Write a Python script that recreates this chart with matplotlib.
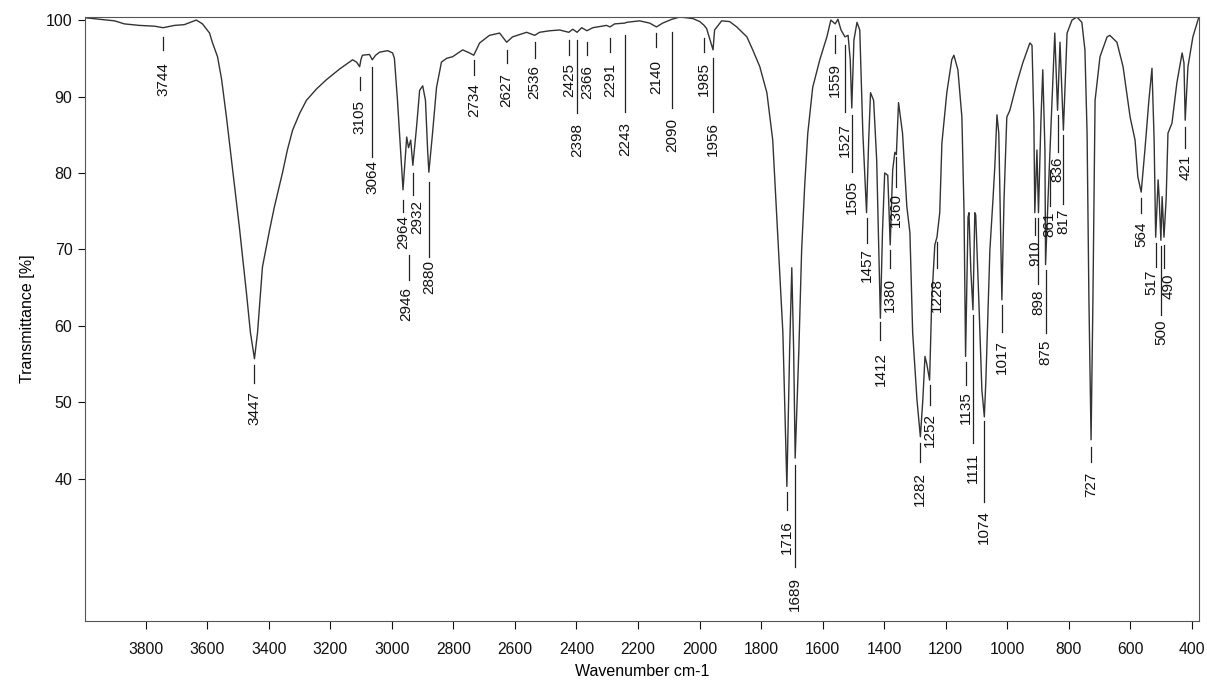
import matplotlib
matplotlib.use("Agg")
import matplotlib.pyplot as plt

plt.rcParams['font.family'] = ['Liberation Sans', 'DejaVu Sans']

# spectrum (wavenumber, transmittance)
wavenumber = [3997, 3951, 3902, 3870, 3821, 3772, 3744, 3707, 3675, 3649, 3636, 3616,
              3593, 3584, 3567, 3554, 3538, 3519, 3496, 3473, 3460, 3447, 3437, 3421, 3398, 3382,
              3356, 3340, 3323, 3300, 3278, 3245, 3213, 3170, 3128, 3115, 3105, 3101, 3096, 3073, 3064, 3053,
              3040, 3014, 2998, 2992, 2982, 2972, 2964, 2952, 2946, 2939, 2932, 2920,
              2910, 2900, 2891, 2884, 2880, 2868, 2855, 2839, 2822, 2803, 2770, 2748,
              2734, 2715, 2683, 2650, 2627, 2608, 2562, 2536, 2520, 2487, 2455, 2425,
              2412, 2398, 2383, 2366, 2347, 2302, 2291, 2276, 2243, 2237, 2195, 2162,
              2140, 2120, 2090, 2064, 2022, 1999, 1985, 1977, 1956, 1951, 1928, 1902,
              1879, 1846, 1827, 1804, 1781, 1762, 1746, 1729, 1716, 1707, 1700, 1694,
              1689, 1677, 1668, 1658, 1648, 1632, 1609, 1586, 1573, 1559, 1550, 1540,
              1527, 1517, 1510, 1505, 1498, 1488, 1479, 1469, 1457, 1450, 1444, 1434,
              1424, 1417, 1412, 1405, 1398, 1388, 1380, 1372, 1365, 1360, 1353, 1340,
              1326, 1316, 1307, 1293, 1282, 1274, 1267, 1261, 1252, 1245, 1235, 1228,
              1219, 1212, 1196, 1180, 1173, 1160, 1147, 1140, 1135, 1127, 1124, 1118,
              1111, 1105, 1102, 1092, 1082, 1074, 1069, 1056, 1046, 1040, 1033, 1027,
              1017, 1010, 1001, 991, 968, 949, 926, 919, 913, 910, 903, 898,
              890, 884, 877, 875, 867, 861, 854, 845, 836, 828, 817, 805,
              789, 773, 757, 747, 740, 734, 727, 721, 714, 698, 675, 666,
              643, 623, 600, 584, 575, 564, 552, 539, 529, 522, 517, 509,
              506, 500, 496, 490, 483, 477, 464, 448, 431, 425, 421, 412,
              396, 378]
transmittance = [100.3, 100.1, 99.9, 99.5, 99.3, 99.2, 99.0, 99.3, 99.4, 99.8, 100.0, 99.5,
                 98.3, 97.1, 95.2, 92.3, 87.3, 80.8, 72.9, 64.3, 59.1, 55.7, 59.1, 67.7, 72.5, 75.6,
                 80.0, 83.0, 85.6, 87.8, 89.5, 91.0, 92.2, 93.6, 94.8, 94.5, 93.9, 94.8, 95.4, 95.5, 94.8, 95.4,
                 95.8, 96.0, 95.7, 95.0, 89.5, 83.0, 77.8, 84.7, 83.3, 84.3, 81.0, 86.0,
                 90.8, 91.4, 89.5, 83.0, 80.1, 85.2, 91.2, 94.5, 95.0, 95.2, 96.1, 95.7,
                 95.4, 97.0, 98.0, 98.3, 97.1, 97.8, 98.4, 98.0, 98.4, 98.6, 98.7, 98.4,
                 98.8, 98.4, 99.0, 98.6, 99.0, 99.3, 99.1, 99.5, 99.6, 99.7, 99.9, 99.6,
                 99.1, 99.6, 100.1, 100.4, 100.2, 99.8, 99.3, 98.9, 96.1, 98.7, 99.9, 99.8,
                 99.1, 97.8, 96.1, 93.9, 90.5, 84.3, 72.2, 59.1, 39.0, 56.9, 67.6, 56.9,
                 42.7, 56.9, 69.9, 78.4, 85.2, 91.2, 94.8, 97.8, 100.0, 99.5, 100.1, 98.7,
                 97.8, 98.0, 94.8, 88.5, 97.4, 99.7, 98.7, 85.2, 74.8, 84.3, 90.5, 89.5,
                 81.7, 69.9, 61.0, 72.5, 80.0, 79.7, 70.6, 80.4, 82.7, 82.4, 89.2, 85.2,
                 75.6, 72.2, 59.1, 50.3, 45.5, 50.3, 56.0, 55.0, 52.9, 63.4, 70.6, 71.6,
                 74.8, 83.9, 90.5, 94.8, 95.4, 93.5, 87.3, 74.8, 56.0, 74.2, 74.8, 67.3,
                 62.1, 74.8, 74.5, 63.4, 51.6, 48.1, 52.9, 69.9, 76.5, 80.8, 87.6, 85.2,
                 63.4, 76.5, 87.3, 88.2, 91.8, 94.4, 97.0, 96.7, 86.9, 74.8, 83.0, 74.8,
                 86.9, 93.5, 83.0, 68.0, 76.5, 82.4, 89.5, 98.3, 88.2, 97.1, 85.6, 98.3,
                 100.0, 100.4, 99.7, 96.1, 85.2, 63.4, 45.1, 63.4, 89.5, 95.2, 97.8, 98.0,
                 97.1, 93.9, 87.3, 84.3, 79.5, 77.5, 83.0, 89.5, 93.7, 84.3, 71.6, 79.1,
                 77.1, 71.2, 76.9, 71.6, 76.5, 85.2, 86.5, 91.8, 95.7, 94.4, 86.9, 93.9,
                 97.8, 100.2]

# peak labels
peaks = [3744, 3447, 3105, 3064, 2964, 2946, 2932, 2880, 2734, 2627, 2536, 2425,
         2398, 2366, 2291, 2243, 2140, 2090, 1985, 1956, 1716, 1689, 1559, 1527,
         1505, 1457, 1412, 1380, 1360, 1282, 1252, 1228, 1135, 1111, 1074, 1017,
         910, 898, 875, 861, 836, 817, 727, 564, 517, 500, 490, 421]

# label layout: start / end of the marker line and top of the text (in %T)
line_top = [97.8, 54.9, 92.5, 93.9, 76.5, 69.3, 80.0, 78.8, 94.8, 96.1, 97.1, 97.4,
            97.4, 97.1, 97.6, 98.0, 98.3, 98.4, 97.6, 95.0, 38.3, 41.8, 98.0, 96.7,
            87.6, 74.1, 60.5, 69.9, 82.1, 44.7, 52.3, 71.0, 55.3, 61.4, 47.5, 62.7,
            74.1, 74.1, 67.3, 80.4, 87.6, 85.0, 44.2, 76.7, 70.8, 70.5, 70.6, 86.0]
line_bot = [96.1, 52.5, 90.8, 82.1, 74.9, 66.0, 77.1, 69.0, 92.8, 94.4, 95.0, 95.4,
            87.8, 95.4, 95.8, 88.0, 96.5, 88.5, 95.8, 88.0, 35.9, 28.4, 95.7, 88.0,
            80.1, 70.8, 58.2, 67.6, 78.2, 42.2, 49.7, 67.6, 52.3, 44.7, 37.0, 59.2,
            71.9, 65.5, 59.1, 75.7, 82.7, 75.9, 42.2, 74.8, 67.7, 61.4, 67.6, 83.3]
text_top = [94.5, 51.4, 89.5, 81.7, 74.5, 65.1, 76.5, 68.6, 91.8, 93.1, 94.1, 94.4,
            86.5, 94.1, 94.4, 86.7, 94.8, 87.2, 94.5, 86.7, 34.6, 27.1, 94.4, 86.5,
            79.1, 70.2, 56.6, 66.3, 77.4, 40.9, 48.6, 66.3, 51.4, 43.5, 35.9, 58.2,
            71.2, 64.8, 58.2, 74.9, 82.1, 75.4, 40.9, 73.6, 67.3, 60.8, 66.9, 82.4]
text_shift = {2932: -15, 2946: 7, 517: 14, 490: -14}

fig = plt.figure(figsize=(12.07, 6.80), dpi=100)
ax = fig.add_axes([0.0704, 0.0868, 0.9230, 0.8882])

ax.plot(wavenumber, transmittance, color="#333333", lw=1.0)

for wn, y0, y1, yt in zip(peaks, line_top, line_bot, text_top):
    ax.plot([wn, wn], [y0, y1], color="#222222", lw=0.9)
    ax.text(wn + text_shift.get(wn, 0), yt, str(wn), rotation=90, ha="center", va="top",
            fontsize=11, color="#111111")

ax.set_xlim(3998, 376)
ax.set_ylim(21.4, 100.4)
ax.set_xticks(range(3800, 399, -200))
ax.set_yticks(range(40, 101, 10))
ax.tick_params(axis="x", direction="out", length=6, width=0.8, pad=9, labelsize=11.3, colors="#111111")
ax.tick_params(axis="y", direction="out", length=5, width=0.8, pad=4, labelsize=11.5, colors="#111111")
for s in ax.spines.values():
    s.set_linewidth(0.8)
    s.set_color("#555555")

ax.set_xlabel("Wavenumber cm-1", fontsize=11.5, labelpad=5)
ax.set_ylabel("Transmittance [%]", fontsize=11.5, labelpad=8)

fig.savefig("out.png", dpi=100)
